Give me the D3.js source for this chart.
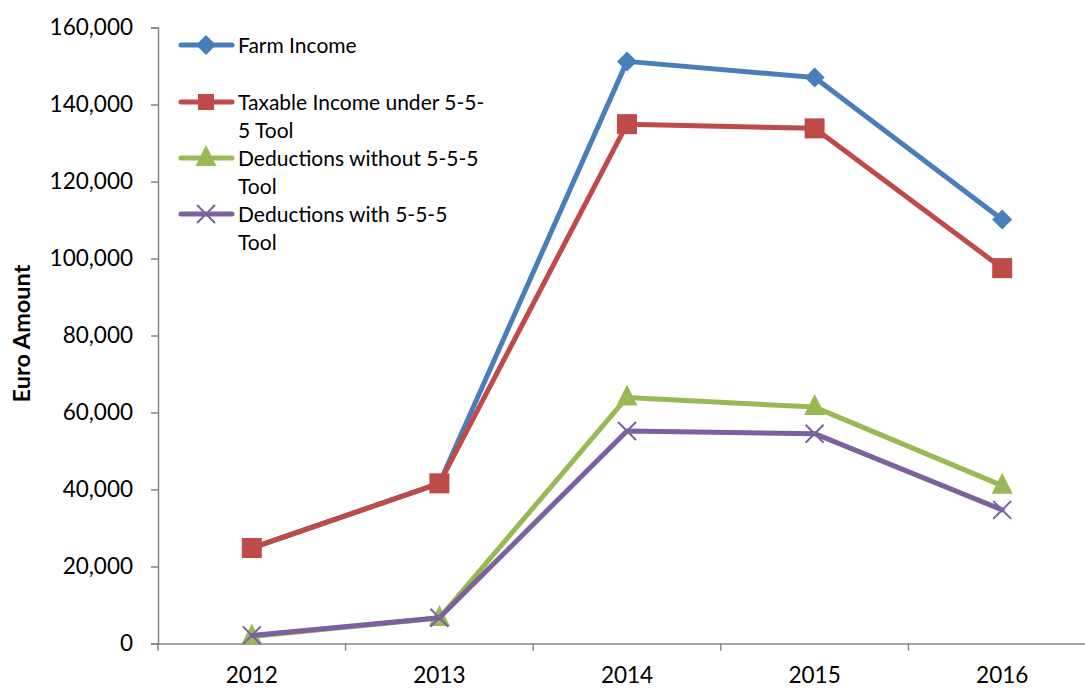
<!DOCTYPE html>
<html>
<head>
<meta charset="utf-8">
<script src="https://cdn.jsdelivr.net/npm/d3@7"></script>
<style>
  html, body { margin: 0; padding: 0; background: #fff; }
  svg { display: block; font-family: Lato, "Open Sans", sans-serif; }
</style>
</head>
<body>
<svg id="chart" width="1085" height="689"></svg>
<script>
// Years on the category axis
const years = ["2012", "2013", "2014", "2015", "2016"];

// Series values (euro)
const farmIncome        = [24800, 41600, 151200, 147000, 110100];
const taxableIncome     = [24800, 41600, 134900, 133800, 97500];
const deductionsWithout = [1800, 6600, 63900, 61400, 41000];
const deductionsWith    = [2100, 6700, 55200, 54500, 34700];

// Legend labels (wrapped as drawn)
const seriesNames = [
  ["Farm Income"],
  ["Taxable Income under 5-5-", "5 Tool"],
  ["Deductions without 5-5-5", "Tool"],
  ["Deductions with 5-5-5", "Tool"]
];

const yTicks = [0, 20000, 40000, 60000, 80000, 100000, 120000, 140000, 160000];

const series = [
  { name: seriesNames[0], values: farmIncome,        color: "#4A7EBB", symbol: "diamond" },
  { name: seriesNames[1], values: taxableIncome,     color: "#BE4B48", symbol: "square" },
  { name: seriesNames[2], values: deductionsWithout, color: "#98B954", symbol: "triangle" },
  { name: seriesNames[3], values: deductionsWith,    color: "#7D60A0", symbol: "cross" }
];

const svg = d3.select("#chart");
const plotLeft = 158, plotRight = 1096, plotTop = 27.5, plotBottom = 643.5;

const x = d3.scaleBand().domain(years).range([plotLeft, plotRight]);
const y = d3.scaleLinear().domain([0, 160000]).range([plotBottom, plotTop]);

const axisColor = "#868686";

// Y axis
const yAxis = svg.append("g")
  .attr("transform", `translate(${plotLeft},0)`)
  .call(d3.axisLeft(y).tickValues(yTicks).tickSize(7).tickPadding(18)
    .tickFormat(d3.format(",")));
yAxis.select(".domain").attr("stroke", axisColor).attr("stroke-width", 1.5);
yAxis.selectAll(".tick line").attr("stroke", axisColor).attr("stroke-width", 1.5);
yAxis.selectAll(".tick text")
  .attr("fill", "#000").style("font-size", "22.5px").style("font-family", "Lato, sans-serif");

// X axis: ticks sit on category boundaries
const xAxis = svg.append("g")
  .attr("transform", `translate(0,${plotBottom})`)
  .call(d3.axisBottom(x).tickSize(0).tickPadding(24));
xAxis.select(".domain").attr("stroke", axisColor).attr("stroke-width", 1.5);
xAxis.selectAll(".tick text")
  .attr("fill", "#000").style("font-size", "22.5px").style("font-family", "Lato, sans-serif");
xAxis.selectAll(".boundary")
  .data(years.map(yr => x(yr)))
  .join("line")
  .attr("class", "boundary")
  .attr("x1", d => d).attr("x2", d => d)
  .attr("y1", 0).attr("y2", 7)
  .attr("stroke", axisColor).attr("stroke-width", 1.5);

// Axis title
svg.append("text")
  .attr("transform", `translate(30,333.5) rotate(-90)`)
  .attr("text-anchor", "middle")
  .style("font-size", "23.5px").style("font-weight", "bold")
  .text("Euro Amount");

const cx = yr => x(yr) + x.bandwidth() / 2;

function drawMarker(g, symbol, color, px, py, scale) {
  const s = scale || 1;
  if (symbol === "diamond") {
    const r = 10 * s;
    g.append("path")
      .attr("d", `M${px},${py - r}L${px + r},${py}L${px},${py + r}L${px - r},${py}Z`)
      .attr("fill", color);
  } else if (symbol === "square") {
    const h = 10 * s;
    g.append("rect").attr("x", px - h).attr("y", py - h)
      .attr("width", 2 * h).attr("height", 2 * h).attr("fill", color);
  } else if (symbol === "triangle") {
    const w = 10.5 * s, hUp = 13 * s, hDn = 8 * s;
    g.append("path")
      .attr("d", `M${px},${py - hUp}L${px + w},${py + hDn}L${px - w},${py + hDn}Z`)
      .attr("fill", color);
  } else if (symbol === "cross") {
    const r = 9 * s;
    g.append("path")
      .attr("d", `M${px - r},${py - r}L${px + r},${py + r}M${px - r},${py + r}L${px + r},${py - r}`)
      .attr("stroke", color).attr("stroke-width", 2).attr("fill", "none");
  }
}

const line = d3.line().x((d, i) => cx(years[i])).y(d => y(d));

// Lines and markers, drawn series by series
series.forEach(s => {
  const g = svg.append("g");
  g.append("path")
    .datum(s.values)
    .attr("d", line)
    .attr("fill", "none")
    .attr("stroke", s.color)
    .attr("stroke-width", 5)
    .attr("stroke-linejoin", "round")
    .attr("stroke-linecap", "round");
  s.values.forEach((v, i) => drawMarker(g, s.symbol, s.color, cx(years[i]), y(v)));
});

// Legend
const legendRows = [45, 102, 158, 214];
const legend = svg.append("g");
series.forEach((s, i) => {
  const ly = legendRows[i];
  legend.append("line")
    .attr("x1", 181).attr("x2", 232).attr("y1", ly).attr("y2", ly)
    .attr("stroke", s.color).attr("stroke-width", 5).attr("stroke-linecap", "round");
  drawMarker(legend, s.symbol, s.color, 206, ly, s.symbol === "square" ? 0.8 : 1);
  s.name.forEach((t, j) => {
    legend.append("text")
      .attr("x", 238).attr("y", ly + 7.5 + j * 28)
      .style("font-size", "21px")
      .text(t);
  });
});
</script>
</body>
</html>
